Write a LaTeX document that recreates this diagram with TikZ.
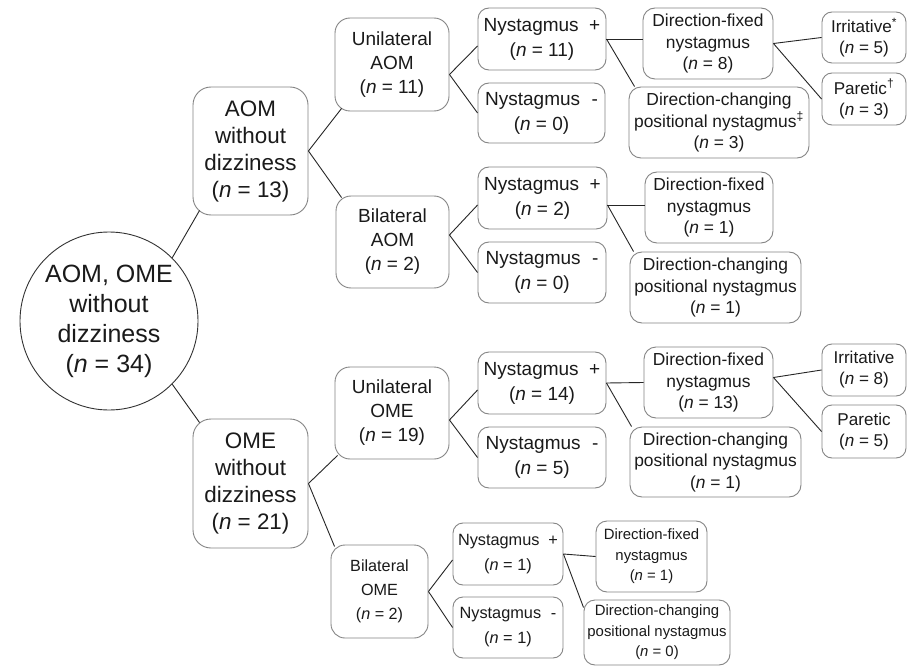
\documentclass[tikz,border=0pt]{standalone}
\usepackage{fontspec}
\setmainfont{Liberation Sans}
\definecolor{boxc}{HTML}{858585}
\definecolor{linec}{HTML}{262626}
\definecolor{circc}{HTML}{333333}
\definecolor{txtc}{HTML}{1A1A1A}
\newcommand\fzRoot{\fontsize{25}{30}\selectfont}
\newcommand\fzBig{\fontsize{22.4}{27}\selectfont}
\newcommand\fzMid{\fontsize{19}{24}\selectfont}
\newcommand\fzNys{\fontsize{19}{25}\selectfont}
\newcommand\fzDir{\fontsize{17.4}{21.5}\selectfont}
\newcommand\fzIrr{\fontsize{17.1}{21}\selectfont}
\newcommand\fzSmMid{\fontsize{16.2}{24}\selectfont}
\newcommand\fzSmNys{\fontsize{16.3}{25}\selectfont}
\newcommand\fzSmDir{\fontsize{14.9}{20.5}\selectfont}
\newcommand\nn{\textit{n}}
\tikzset{
  box/.style={draw=boxc, line width=0.9pt, inner sep=0pt, align=center, text=txtc},
  bigbox/.style={box, rounded corners=18pt, font=\fzBig},
  midbox/.style={box, rounded corners=15pt, font=\fzMid},
  smmidbox/.style={box, rounded corners=14pt, font=\fzSmMid},
  nysbox/.style={box, rounded corners=11pt, font=\fzNys},
  smnysbox/.style={box, rounded corners=10pt, font=\fzSmNys},
  dirbox/.style={box, rounded corners=12pt, font=\fzDir},
  smdirbox/.style={box, rounded corners=11pt, font=\fzSmDir},
  irrbox/.style={box, rounded corners=10pt, font=\fzIrr},
  link/.style={draw=linec, line width=0.9pt},
}
\begin{document}
\begin{tikzpicture}[x=1pt,y=-1pt]
\useasboundingbox[fill=white] (0,0) rectangle (908,666);
% root
\node[circle, draw=circc, line width=0.9pt, minimum size=178pt, inner sep=0pt, align=center, text=txtc, font=\fzRoot] (root) at (109,321) {AOM, OME\\without\\dizziness\\(\nn{} = 34)};
% level 1
\node[bigbox, minimum width=115pt, minimum height=128pt] (aom) at (250.5,151) {AOM\\without\\dizziness\\(\nn{} = 13)};
\node[bigbox, minimum width=115pt, minimum height=129pt] (ome) at (250.5,483.5) {OME\\without\\dizziness\\(\nn{} = 21)};
% level 2
\node[midbox, minimum width=114pt, minimum height=93pt] (uaom) at (392,64.5) {Unilateral\\AOM\\(\nn{} = 11)};
\node[midbox, minimum width=113pt, minimum height=92pt] (baom) at (392.5,242) {Bilateral\\AOM\\(\nn{} = 2)};
\node[midbox, minimum width=114pt, minimum height=92pt] (uome) at (392,413) {Unilateral\\OME\\(\nn{} = 19)};
\node[smmidbox, minimum width=97pt, minimum height=93pt] (bome) at (379.5,591.5) {Bilateral\\OME\\(\nn{} = 2)};
% level 3
\node[nysbox, minimum width=128pt, minimum height=62pt] (npa1) at (542,39) {Nystagmus\hspace{0.55em}+\\(\nn{} = 11)};
\node[nysbox, minimum width=127pt, minimum height=60pt] (nma1) at (541.5,113) {Nystagmus\hspace{0.6em}-\\(\nn{} = 0)};
\node[nysbox, minimum width=129pt, minimum height=62pt] (npa2) at (542.5,198) {Nystagmus\hspace{0.55em}+\\(\nn{} = 2)};
\node[nysbox, minimum width=128pt, minimum height=61pt] (nma2) at (542,272.5) {Nystagmus\hspace{0.6em}-\\(\nn{} = 0)};
\node[nysbox, minimum width=128pt, minimum height=62pt] (npo1) at (542,383) {Nystagmus\hspace{0.55em}+\\(\nn{} = 14)};
\node[nysbox, minimum width=128pt, minimum height=61pt] (nmo1) at (542,457.5) {Nystagmus\hspace{0.6em}-\\(\nn{} = 5)};
\node[smnysbox, minimum width=110pt, minimum height=62pt] (npo2) at (508,554) {Nystagmus\hspace{0.55em}+\\(\nn{} = 1)};
\node[smnysbox, minimum width=110pt, minimum height=61pt] (nmo2) at (508,627.5) {Nystagmus\hspace{0.6em}-\\(\nn{} = 1)};
% level 4
\node[dirbox, minimum width=130pt, minimum height=71pt] (dfa1) at (708,43.5) {Direction-fixed\\nystagmus\\(\nn{} = 8)};
\node[dirbox, minimum width=180pt, minimum height=71pt] (dca1) at (719,122.5) {Direction-changing\\positional nystagmus\textsuperscript{‡}\\(\nn{} = 3)};
\node[dirbox, minimum width=128pt, minimum height=71pt] (dfa2) at (709,207.5) {Direction-fixed\\nystagmus\\(\nn{} = 1)};
\node[dirbox, minimum width=171pt, minimum height=71pt] (dca2) at (715.5,287.5) {Direction-changing\\positional nystagmus\\(\nn{} = 1)};
\node[dirbox, minimum width=129pt, minimum height=71pt] (dfo1) at (708.5,382.5) {Direction-fixed\\nystagmus\\(\nn{} = 13)};
\node[dirbox, minimum width=171pt, minimum height=70pt] (dco1) at (715.5,462) {Direction-changing\\positional nystagmus\\(\nn{} = 1)};
\node[smdirbox, minimum width=111pt, minimum height=71pt] (dfo2) at (651.5,556.5) {Direction-fixed\\nystagmus\\(\nn{} = 1)};
\node[smdirbox, minimum width=146pt, minimum height=65pt] (dco2) at (657,632.5) {Direction-changing\\positional nystagmus\\(\nn{} = 0)};
% level 5
\node[irrbox, minimum width=84pt, minimum height=51pt] (irra) at (864,37.5) {Irritative\textsuperscript{*}\\(\nn{} = 5)};
\node[irrbox, minimum width=84pt, minimum height=52pt] (para) at (864,99) {Paretic\textsuperscript{†}\\(\nn{} = 3)};
\node[irrbox, minimum width=84pt, minimum height=52pt] (irro) at (864,370) {Irritative\\(\nn{} = 8)};
\node[irrbox, minimum width=84pt, minimum height=53pt] (paro) at (864,431.5) {Paretic\\(\nn{} = 5)};
% connectors
\draw[link] (root.45) -- ([shift={(7pt,5pt)}]aom.south west);
\draw[link] (root.-45) -- ([shift={(7pt,-4pt)}]ome.north west);
\draw[link] (aom.east) -- ([shift={(7pt,3pt)}]uaom.south west);
\draw[link] (aom.east) -- ([shift={(6pt,-2pt)}]baom.north west);
\draw[link] (ome.east) -- ([shift={(3pt,4pt)}]uome.south west);
\draw[link] (ome.east) -- ([shift={(4pt,-2pt)}]bome.north west);
\draw[link] ([yshift=-10pt]uaom.east) -- ([yshift=-7pt]npa1.west);
\draw[link] ([yshift=-10pt]uaom.east) -- (nma1.west);
\draw[link] ([yshift=7pt]baom.east) -- ([yshift=-7pt]npa2.west);
\draw[link] ([yshift=7pt]baom.east) -- (nma2.west);
\draw[link] ([yshift=-7pt]uome.east) -- ([yshift=-7pt]npo1.west);
\draw[link] ([yshift=-7pt]uome.east) -- (nmo1.west);
\draw[link] (bome.east) -- ([yshift=-6pt]npo2.west);
\draw[link] (bome.east) -- (nmo2.west);
\draw[link] (npa1.east) -- ([yshift=4.5pt]dfa1.west);
\draw[link] (npa1.east) -- ([xshift=6pt]dca1.north west);
\draw[link] ([yshift=-7pt]npa2.east) -- ([yshift=2.5pt]dfa2.west);
\draw[link] ([yshift=-7pt]npa2.east) -- ([xshift=4pt]dca2.north west);
\draw[link] (npo1.east) -- (dfo1.west);
\draw[link] (npo1.east) -- ([xshift=2pt]dco1.north west);
\draw[link] (npo2.east) -- (dfo2.west);
\draw[link] (npo2.east) -- ([yshift=-8pt]dco2.north west);
\draw[link] (dfa1.east) -- (irra.west);
\draw[link] (dfa1.east) -- (para.west);
\draw[link] ([yshift=5pt]dfo1.east) -- (irro.west);
\draw[link] ([yshift=5pt]dfo1.east) -- (paro.west);
\end{tikzpicture}
\end{document}
